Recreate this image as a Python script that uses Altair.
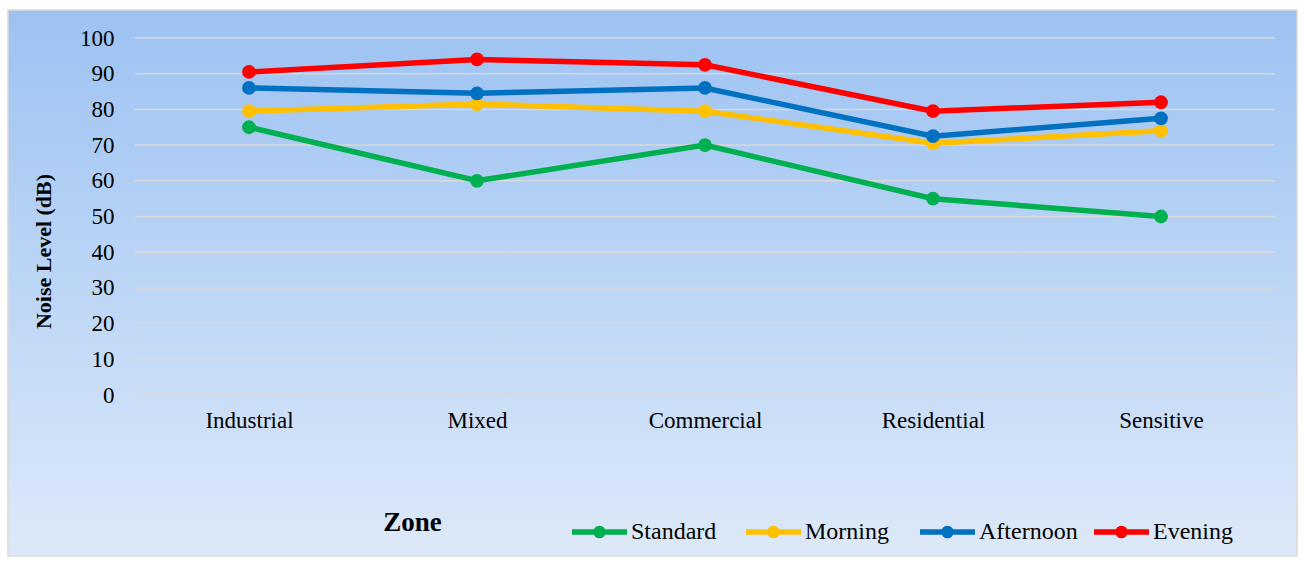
import altair as alt
import pandas as pd

zones = ["Industrial", "Mixed", "Commercial", "Residential", "Sensitive"]
series = ["Standard", "Morning", "Afternoon", "Evening"]
colors = ["#00B050", "#FFC000", "#0070C0", "#FF0000"]
standard = [75, 60, 70, 55, 50]
morning = [79.5, 81.5, 79.5, 70.5, 74]
afternoon = [86, 84.5, 86, 72.5, 77.5]
evening = [90.5, 94, 92.5, 79.5, 82]
y_ticks = [0, 10, 20, 30, 40, 50, 60, 70, 80, 90, 100]

rows = []
for name, vals in zip(series, [standard, morning, afternoon, evening]):
    for z, v in zip(zones, vals):
        rows.append({"Zone": z, "Series": name, "Value": v})
df = pd.DataFrame(rows)
grid_df = pd.DataFrame({"Value": y_ticks})

FONT = "Liberation Serif"
W, H = 1140, 357
PL, PT = 135, 38

bg = alt.Chart(pd.DataFrame({"a": [0]})).mark_rect(
    fill=alt.LinearGradient(
        gradient="linear",
        stops=[alt.GradientStop(color="#9CC2F2", offset=0),
               alt.GradientStop(color="#DDE9F9", offset=1)],
        x1=0, x2=0, y1=0, y2=1),
    stroke="#D9D9D9", strokeWidth=1.5,
).encode(
    x=alt.value(8 - PL), x2=alt.value(1297 - PL),
    y=alt.value(10 - PT), y2=alt.value(556 - PT),
)

y_scale = alt.Scale(domain=[0, 100], nice=False)

x_enc = alt.X("Zone:N", sort=zones,
              scale=alt.Scale(type="point", padding=0.5),
              axis=alt.Axis(title="Zone", labelAngle=0, labelFont=FONT, labelFontSize=23,
                            labelColor="#000000", labelPadding=14, ticks=False, domain=False,
                            grid=False, zindex=1, labelOverlap=False, titleFont=FONT,
                            titleFontSize=27, titleFontWeight="bold",
                            titleColor="#000000", titleX=277, titleY=127, titleAlign="center",
                            titleBaseline="middle", titleAnchor="start"))
y_enc = alt.Y("Value:Q", scale=y_scale,
              axis=alt.Axis(title="Noise Level (dB)", values=y_ticks, labelFont=FONT,
                            labelFontSize=23, labelColor="#000000", labelPadding=21,
                            ticks=False, domain=False, grid=False, zindex=1,
                            labelOverlap=False, titleFont=FONT, titleFontSize=22,
                            titleFontWeight="bold", titleColor="#000000", titleX=-92,
                            titleY=213, titleAngle=-90, titleAlign="center",
                            titleBaseline="middle", titleAnchor="start"))

grid = alt.Chart(grid_df).mark_rule(color="#D9D9D9", strokeWidth=1.5).encode(
    y=y_enc,
    x=alt.value(0), x2=alt.value(W),
)

legend_path = ("M-1,0H1M0.13,0A0.13,0.13 0 1 1 -0.13,0A0.13,0.13 0 1 1 0.13,0")

color_enc = alt.Color(
    "Series:N", sort=series,
    scale=alt.Scale(domain=series, range=colors),
    legend=alt.Legend(
        title=None, orient="none", direction="horizontal",
        legendX=434, legendY=463, symbolType=legend_path,
        symbolSize=3025, symbolStrokeWidth=5.5, symbolOpacity=1,
        labelFont=FONT, labelFontSize=24, labelColor="#000000",
        labelOffset=1, gridAlign="all", columnPadding=5,
        columns=4, padding=0, zindex=1,
    ),
)

lines = alt.Chart(df).mark_line(strokeWidth=5.5).encode(
    x=x_enc, y=y_enc, color=color_enc,
)

points = alt.Chart(df).mark_circle(size=190, opacity=1).encode(
    x=x_enc, y=y_enc, color=color_enc,
)

chart = alt.layer(bg, grid, lines, points).properties(
    width=W, height=H,
    autosize=alt.AutoSizeParams(type="none"),
    padding={"left": PL, "top": PT, "right": 1305 - PL - W, "bottom": 561 - PT - H},
    background="#FFFFFF",
).configure_view(stroke=None)

chart.save("out.html", embed_options={"renderer": "svg", "actions": False})
